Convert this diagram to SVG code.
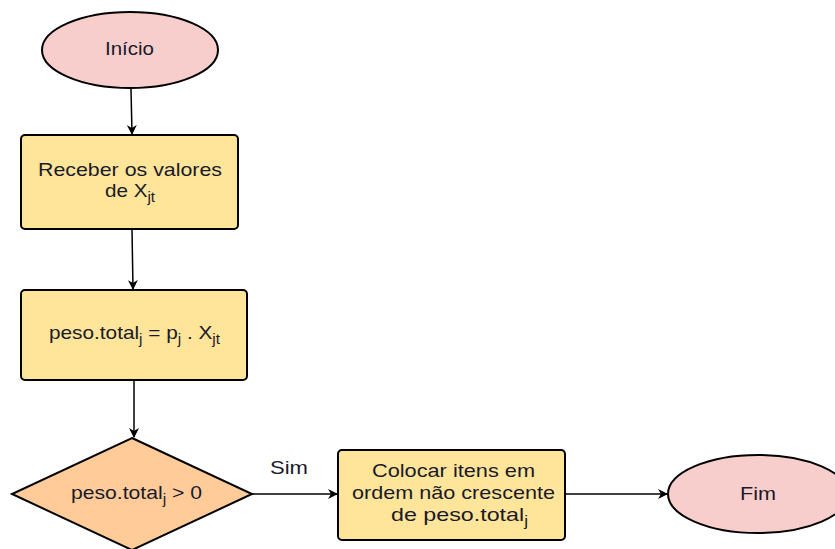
<svg xmlns="http://www.w3.org/2000/svg" width="835" height="549" viewBox="0 0 835 549">
  <style>
    .term { fill: #f8cecc; stroke: #000; stroke-width: 2; }
    .proc { fill: #ffe599; stroke: #000; stroke-width: 2; }
    .dec  { fill: #ffcc99; stroke: #000; stroke-width: 2; }
    .lbl  { font-family: "Liberation Sans", Arial, sans-serif; font-size: 19px; fill: #1a1a2a; }
    .sub  { font-size: 14px; }
    .edge { stroke: #000; stroke-width: 1.5; fill: none; marker-end: url(#arrow); }
  </style>
  <defs>
    <marker id="arrow" viewBox="0 0 10 10" refX="9" refY="5" markerWidth="10" markerHeight="10" markerUnits="userSpaceOnUse" orient="auto">
      <path d="M0,0 L10,5 L0,10 L3,5 Z" fill="#000"/>
    </marker>
  </defs>
  <rect width="835" height="549" fill="#fff"/>

  <g id="connectors">
    <line class="edge" x1="131" y1="89" x2="132" y2="134"/>
    <line class="edge" x1="132" y1="229" x2="133" y2="289"/>
    <line class="edge" x1="134" y1="380" x2="134" y2="437"/>
    <line class="edge" x1="252" y1="494" x2="337" y2="494"/>
    <line class="edge" x1="565" y1="494" x2="667" y2="494"/>
    <text class="lbl" x="270" y="474" textLength="38" lengthAdjust="spacingAndGlyphs">Sim</text>
  </g>

  <g id="inicio">
    <ellipse class="term" cx="130" cy="50" rx="88" ry="38"/>
    <text class="lbl" x="105" y="55" textLength="49" lengthAdjust="spacingAndGlyphs">Início</text>
  </g>

  <g id="receber">
    <rect class="proc" x="21" y="135" width="217" height="94" rx="4"/>
    <text class="lbl" x="38" y="176" textLength="184" lengthAdjust="spacingAndGlyphs">Receber os valores</text>
    <text class="lbl" x="105" y="197" textLength="50" lengthAdjust="spacingAndGlyphs">de X<tspan class="sub" dy="5">jt</tspan></text>
  </g>

  <g id="peso">
    <rect class="proc" x="21" y="290" width="226" height="90" rx="4"/>
    <text class="lbl" x="49" y="339" textLength="171" lengthAdjust="spacingAndGlyphs">peso.total<tspan class="sub" dy="5">j</tspan><tspan dy="-5"> = p</tspan><tspan class="sub" dy="5">j</tspan><tspan dy="-5"> . X</tspan><tspan class="sub" dy="5">jt</tspan></text>
  </g>

  <g id="decisao">
    <polygon class="dec" points="132,438 252,494 132,550 12,494"/>
    <text class="lbl" x="71" y="499" textLength="131" lengthAdjust="spacingAndGlyphs">peso.total<tspan class="sub" dy="5">j</tspan><tspan dy="-5"> &gt; 0</tspan></text>
  </g>

  <g id="colocar">
    <rect class="proc" x="338" y="450" width="227" height="90" rx="4"/>
    <text class="lbl" x="372" y="477" textLength="163" lengthAdjust="spacingAndGlyphs">Colocar itens em</text>
    <text class="lbl" x="352" y="499" textLength="203" lengthAdjust="spacingAndGlyphs">ordem não crescente</text>
    <text class="lbl" x="391" y="521" textLength="137" lengthAdjust="spacingAndGlyphs">de peso.total<tspan class="sub" dy="5">j</tspan></text>
  </g>

  <g id="fim">
    <ellipse class="term" cx="758" cy="494" rx="90" ry="39"/>
    <text class="lbl" x="740" y="500" textLength="36" lengthAdjust="spacingAndGlyphs">Fim</text>
  </g>
</svg>
